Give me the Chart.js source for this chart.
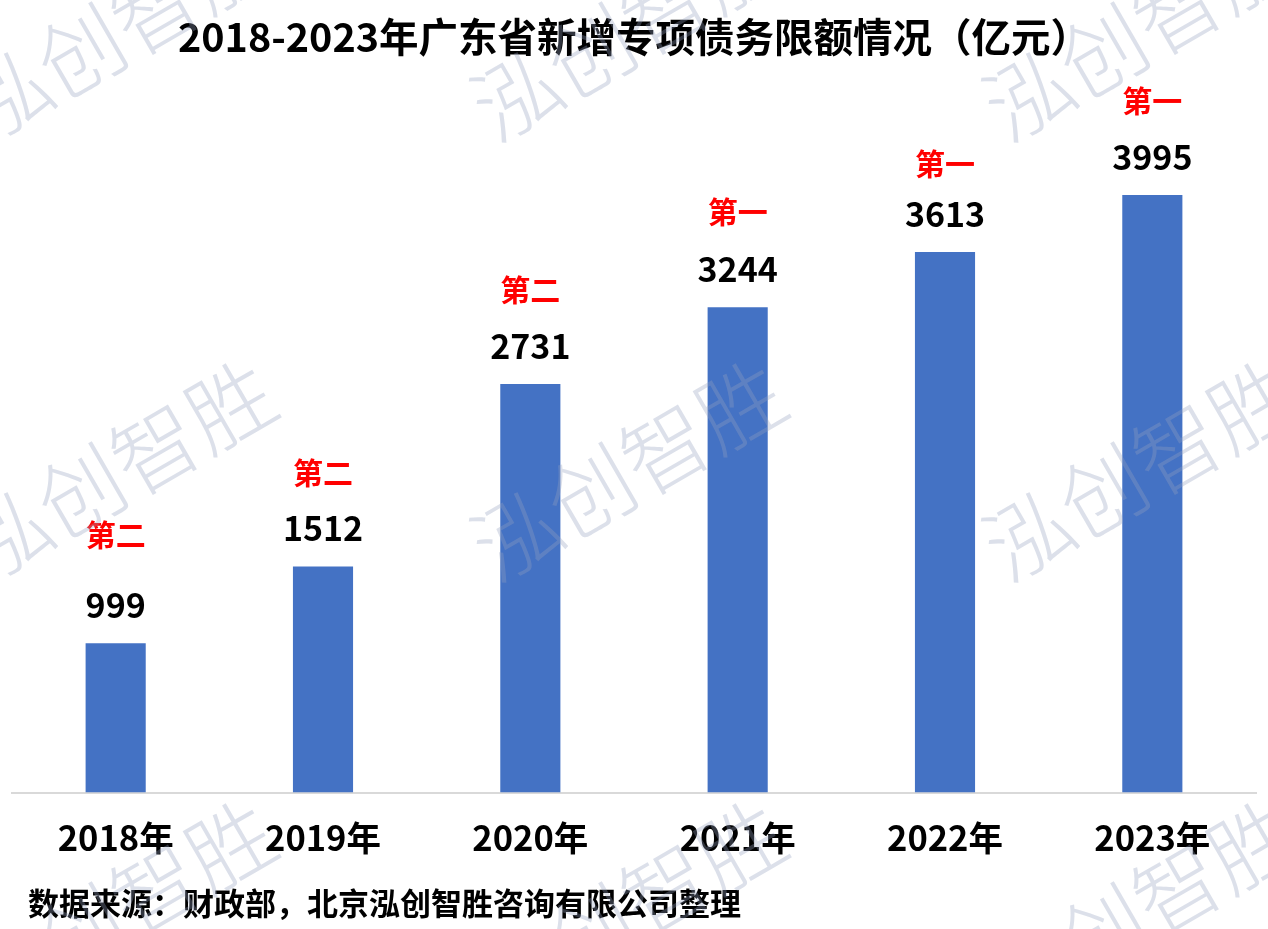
<!DOCTYPE html>
<html>
<head>
<meta charset="utf-8">
<script src="https://cdn.jsdelivr.net/npm/chart.js@4.4.1/dist/chart.umd.min.js"></script>
<style>
  html, body { margin: 0; padding: 0; background: #ffffff; }
  #wrap { width: 1268px; height: 929px; position: relative; }
</style>
</head>
<body>
<div id="wrap"><canvas id="c"></canvas></div>
<script>
// ---- data ----
const categories = ['2018年', '2019年', '2020年', '2021年', '2022年', '2023年'];
const limits = [999, 1512, 2731, 3244, 3613, 3995];
const ranks = ['第二', '第二', '第二', '第一', '第一', '第一'];
const titleText = '2018-2023年广东省新增专项债务限额情况（亿元）';
const sourceText = '数据来源：财政部，北京泓创智胜咨询有限公司整理';
const watermarkText = '泓创智胜';

const FONT = "'Noto Sans CJK SC', 'Microsoft YaHei', 'Noto Sans', sans-serif";
Chart.defaults.font.family = FONT;

const labelPlugin = {
  id: 'barLabels',
  afterDatasetsDraw(chart, args, opts) {
    const ctx = chart.ctx;
    const meta = chart.getDatasetMeta(0);
    ctx.save();
    ctx.textAlign = 'center';
    ctx.textBaseline = 'middle';
    meta.data.forEach((bar, i) => {
      const v = chart.data.datasets[0].data[i];
      const vy = bar.y - opts.valueGap;
      ctx.font = 'bold 34px ' + FONT;
      ctx.fillStyle = '#000000';
      ctx.fillText(String(v), bar.x, vy);
      ctx.font = 'bold 30px ' + FONT;
      ctx.fillStyle = '#ff0000';
      ctx.fillText(opts.ranks[i], bar.x, vy - opts.rankGaps[i]);
    });
    ctx.restore();
  }
};

const extrasPlugin = {
  id: 'extras',
  afterDraw(chart, args, opts) {
    const ctx = chart.ctx;
    ctx.save();
    // source note
    ctx.font = 'bold 31px ' + FONT;
    ctx.fillStyle = '#000000';
    ctx.textAlign = 'left';
    ctx.textBaseline = 'middle';
    ctx.fillText(opts.source, 28, 903);
    // watermarks
    ctx.font = '300 86px ' + FONT;
    ctx.fillStyle = 'rgba(150,162,192,0.33)';
    ctx.textAlign = 'center';
    const xs = [118, 628, 1140];
    const ys = [30, 470, 910];
    ys.forEach(y => xs.forEach(x => {
      ctx.save();
      ctx.translate(x, y);
      ctx.rotate(-30 * Math.PI / 180);
      ctx.fillText(opts.watermark, 0, 0);
      ctx.restore();
    }));
    ctx.restore();
  }
};

new Chart(document.getElementById('c'), {
  type: 'bar',
  data: {
    labels: categories,
    datasets: [{
      data: limits,
      backgroundColor: '#4472C4',
      borderWidth: 0,
      categoryPercentage: 1.0,
      barPercentage: 0.29
    }]
  },
  options: {
    responsive: true,
    maintainAspectRatio: false,
    animation: false,
    layout: { padding: { left: 12, right: 12, top: 0, bottom: 45 } },
    plugins: {
      legend: { display: false },
      tooltip: { enabled: false },
      title: {
        display: true,
        text: titleText,
        color: '#000000',
        font: { size: 39.5, weight: 'bold' },
        padding: { top: 13, bottom: 59 }
      },
      barLabels: { valueGap: 38, ranks: ranks, rankGaps: [71, 56, 56, 58, 51, 56] },
      extras: { source: sourceText, watermark: watermarkText }
    },
    scales: {
      x: {
        grid: { display: false, drawTicks: false },
        border: { display: true, color: '#D9D9D9', width: 2 },
        ticks: { color: '#000000', font: { size: 34.5, weight: 'bold' }, padding: 25 }
      },
      y: { display: false, min: 0, max: 4500 }
    }
  },
  plugins: [labelPlugin, extrasPlugin]
});
</script>
</body>
</html>
